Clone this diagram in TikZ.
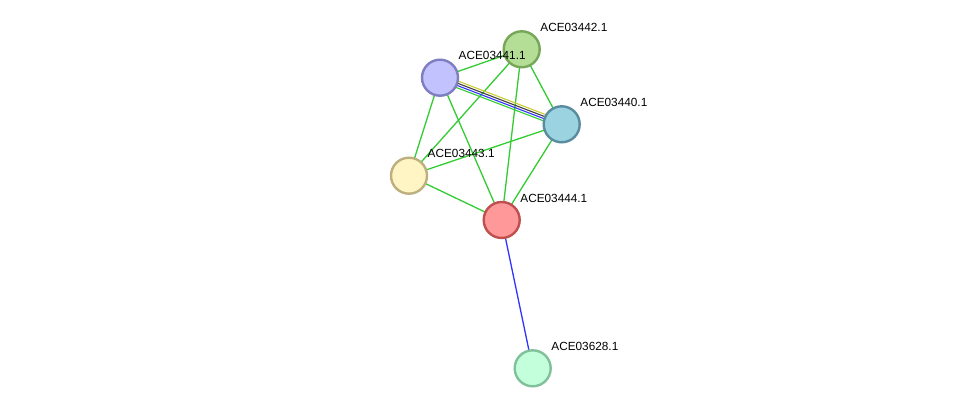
\documentclass[tikz,border=0pt]{standalone}
\usepackage{fontspec}
\setmainfont{Liberation Sans}
\usetikzlibrary{backgrounds}
\pgfdeclarelayer{bottom}
\pgfsetlayers{bottom,background,main}
\definecolor{eg}{HTML}{33CC33}
\definecolor{eb}{HTML}{3333FF}
\definecolor{ey}{HTML}{CCCC33}
\definecolor{ek}{HTML}{404040}
\tikzset{
  prot/.style={circle, minimum size=36pt, inner sep=0pt, line width=2.4pt},
  lbl/.style={anchor=west, inner sep=0pt, font=\fontsize{11.8}{14}\selectfont, text=black},
  edge/.style={line width=1.3pt},
  thin edge/.style={line width=1.1pt},
}
\begin{document}
\begin{tikzpicture}[x=1pt,y=-1pt]
\begin{pgfonlayer}{bottom}
\fill[white] (0,0) rectangle (975,414);
\end{pgfonlayer}
\useasboundingbox (0,0) rectangle (975,414);
\node[prot, fill={rgb,255:red,180;green,222;blue,150}, draw={rgb,255:red,118;green,166;blue,88}] (n442) at (521.7,49.3) {};
\node[prot, fill={rgb,255:red,194;green,194;blue,255}, draw={rgb,255:red,126;green,126;blue,192}] (n441) at (440,77.7) {};
\node[prot, fill={rgb,255:red,155;green,211;blue,224}, draw={rgb,255:red,88;green,140;blue,158}] (n440) at (561.7,124.3) {};
\node[prot, fill={rgb,255:red,255;green,244;blue,196}, draw={rgb,255:red,190;green,176;blue,126}] (n443) at (409,175.7) {};
\node[prot, fill={rgb,255:red,255;green,152;blue,152}, draw={rgb,255:red,190;green,80;blue,80}] (n444) at (501.7,220) {};
\node[prot, fill={rgb,255:red,196;green,255;blue,220}, draw={rgb,255:red,128;green,192;blue,154}] (n628) at (532.7,368.3) {};
\node[lbl] (l442) at (540.2,27.3) {ACE03442.1};
\node[lbl] (l441) at (458.5,55.7) {ACE03441.1};
\node[lbl] (l440) at (580.2,102.3) {ACE03440.1};
\node[lbl] (l443) at (427.5,153.7) {ACE03443.1};
\node[lbl] (l444) at (520.2,198) {ACE03444.1};
\node[lbl] (l628) at (551.2,346.3) {ACE03628.1};
\begin{scope}[on background layer]
\draw[edge, eg] (n441.center) -- (n442.center);
\draw[edge, eg] (n441.center) -- (n443.center);
\draw[edge, eg] (n441.center) -- (n444.center);
\draw[edge, eg] (n442.center) -- (n443.center);
\draw[edge, eg] (n442.center) -- (n444.center);
\draw[edge, eg] (n442.center) -- (n440.center);
\draw[edge, eg] (n440.center) -- (n443.center);
\draw[edge, eg] (n440.center) -- (n444.center);
\draw[edge, eg] (n443.center) -- (n444.center);
\draw[edge, eb] (n444.center) -- (n628.center);
\draw[thin edge, ey, transform canvas={shift={(1.2,-3.1)}}] (n441.center) -- (n440.center);
\draw[thin edge, ek, transform canvas={shift={(0.4,-1.03)}}] (n441.center) -- (n440.center);
\draw[thin edge, eb, transform canvas={shift={(-0.4,1.03)}}] (n441.center) -- (n440.center);
\draw[thin edge, eg, transform canvas={shift={(-1.2,3.1)}}] (n441.center) -- (n440.center);
\end{scope}
\end{tikzpicture}
\end{document}
